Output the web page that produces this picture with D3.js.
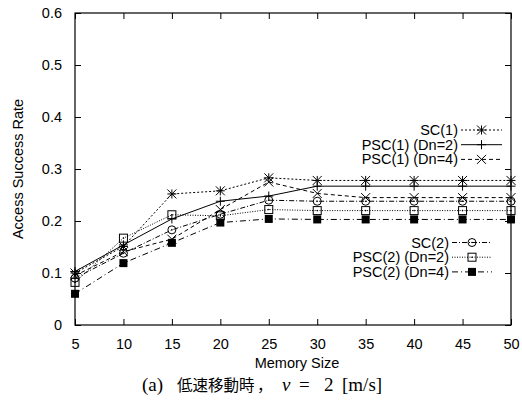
<!DOCTYPE html>
<html>
<head>
<meta charset="utf-8">
<script src="https://cdn.jsdelivr.net/npm/d3@7"></script>
<style>
  body { margin: 0; background: #fff; }
  svg { display: block; }
  text { font-family: "Liberation Sans", Arial, sans-serif; fill: #000; }
</style>
</head>
<body>
<script>
// data
const memorySize = [5, 10, 15, 20, 25, 30, 35, 40, 45, 50];
const sc1     = [0.100, 0.151, 0.252, 0.258, 0.283, 0.278, 0.278, 0.278, 0.278, 0.278];
const psc1Dn2 = [0.103, 0.154, 0.204, 0.238, 0.248, 0.267, 0.267, 0.267, 0.267, 0.267];
const psc1Dn4 = [0.095, 0.141, 0.165, 0.222, 0.275, 0.253, 0.245, 0.245, 0.245, 0.245];
const sc2     = [0.090, 0.138, 0.183, 0.213, 0.240, 0.238, 0.238, 0.238, 0.238, 0.238];
const psc2Dn2 = [0.082, 0.167, 0.212, 0.210, 0.222, 0.220, 0.220, 0.220, 0.220, 0.220];
const psc2Dn4 = [0.060, 0.119, 0.158, 0.197, 0.204, 0.203, 0.203, 0.203, 0.203, 0.203];
const seriesNames = ['SC(1)', 'PSC(1) (Dn=2)', 'PSC(1) (Dn=4)', 'SC(2)', 'PSC(2) (Dn=2)', 'PSC(2) (Dn=4)'];
const yTicks = [0, 0.1, 0.2, 0.3, 0.4, 0.5, 0.6];

const width = 522, height = 406;
const margin = { top: 13, right: 11, bottom: 81, left: 75 };

const series = [
  { name: seriesNames[0], values: sc1, dash: '2,2', marker: 'star' },
  { name: seriesNames[1], values: psc1Dn2, dash: null, marker: 'plus' },
  { name: seriesNames[2], values: psc1Dn4, dash: '4,3', marker: 'cross' },
  { name: seriesNames[3], values: sc2, dash: '5,2,1,2', marker: 'circle' },
  { name: seriesNames[4], values: psc2Dn2, dash: '1,1.5', marker: 'square' },
  { name: seriesNames[5], values: psc2Dn4, dash: '6,3,1,3', marker: 'fsquare' },
];

const svg = d3.select('body').append('svg')
  .attr('width', width)
  .attr('height', height);

const x = d3.scaleLinear().domain([5, 50]).range([margin.left, width - margin.right]);
const y = d3.scaleLinear().domain([0, 0.6]).range([height - margin.bottom, margin.top]);

// axes with inward ticks, mirrored
const fmtY = d => d === 0 ? '0' : d3.format('.1f')(d);
svg.append('g')
  .attr('transform', `translate(${margin.left},0)`)
  .call(d3.axisLeft(y).tickValues(yTicks).tickSizeInner(-6).tickSizeOuter(0).tickPadding(13).tickFormat(fmtY));
svg.append('g')
  .attr('transform', `translate(${width - margin.right},0)`)
  .call(d3.axisRight(y).tickValues(yTicks).tickSizeInner(-6).tickSizeOuter(0).tickFormat(''));
svg.append('g')
  .attr('transform', `translate(0,${height - margin.bottom})`)
  .call(d3.axisBottom(x).tickValues(memorySize).tickSizeInner(-6).tickSizeOuter(0).tickPadding(14));
svg.append('g')
  .attr('transform', `translate(0,${margin.top})`)
  .call(d3.axisTop(x).tickValues(memorySize).tickSizeInner(-6).tickSizeOuter(0).tickFormat(''));

svg.selectAll('.domain').remove();
svg.selectAll('.tick line').attr('stroke', '#000');
svg.selectAll('.tick text').style('font-size', '14.5px').style('font-family', '"Liberation Sans", Arial, sans-serif');

svg.append('rect')
  .attr('x', margin.left)
  .attr('y', margin.top)
  .attr('width', width - margin.left - margin.right)
  .attr('height', height - margin.top - margin.bottom)
  .attr('fill', 'none')
  .attr('stroke', '#000')
  .attr('stroke-width', 1.2);

// markers
function drawMarker(g, type, cx, cy) {
  const s = 4.5;
  if (type === 'star' || type === 'plus') {
    g.append('path').attr('d', `M${cx - s},${cy}H${cx + s}M${cx},${cy - s}V${cy + s}`)
      .attr('stroke', '#000').attr('stroke-width', 1);
  }
  if (type === 'star' || type === 'cross') {
    g.append('path').attr('d', `M${cx - s},${cy - s}L${cx + s},${cy + s}M${cx - s},${cy + s}L${cx + s},${cy - s}`)
      .attr('stroke', '#000').attr('stroke-width', 1);
  }
  if (type === 'circle') {
    g.append('circle').attr('cx', cx).attr('cy', cy).attr('r', 4)
      .attr('fill', 'none').attr('stroke', '#000').attr('stroke-width', 1);
    g.append('circle').attr('cx', cx).attr('cy', cy).attr('r', 0.8).attr('fill', '#000');
  }
  if (type === 'square') {
    g.append('rect').attr('x', cx - 4).attr('y', cy - 4).attr('width', 8).attr('height', 8)
      .attr('fill', 'none').attr('stroke', '#000').attr('stroke-width', 1);
    g.append('circle').attr('cx', cx).attr('cy', cy).attr('r', 0.8).attr('fill', '#000');
  }
  if (type === 'fsquare') {
    g.append('rect').attr('x', cx - 4).attr('y', cy - 4).attr('width', 8).attr('height', 8)
      .attr('fill', '#000');
  }
}

const line = d3.line()
  .x((d, i) => x(memorySize[i]))
  .y(d => y(d));

series.forEach((s) => {
  const g = svg.append('g');
  g.append('path')
    .attr('d', line(s.values))
    .attr('fill', 'none')
    .attr('stroke', '#000')
    .attr('stroke-width', 1)
    .attr('stroke-dasharray', s.dash);
  s.values.forEach((v, i) => drawMarker(g, s.marker, x(memorySize[i]), y(v)));
});

// legends (two blocks, gnuplot style)
const legendBlocks = [
  { items: series.slice(0, 3), textX: 458, x0: 461, x1: 502, top: 130 },
  { items: series.slice(3), textX: 449, x0: 452, x1: 492, top: 242.5 },
];
legendBlocks.forEach((b) => {
  b.items.forEach((s, i) => {
    const ly = b.top + i * 14.7;
    const g = svg.append('g');
    g.append('text')
      .attr('x', b.textX)
      .attr('y', ly)
      .attr('dy', '0.35em')
      .attr('text-anchor', 'end')
      .style('font-size', '14.5px')
      .text(s.name);
    g.append('line')
      .attr('x1', b.x0).attr('x2', b.x1)
      .attr('y1', ly).attr('y2', ly)
      .attr('stroke', '#000')
      .attr('stroke-width', 1)
      .attr('stroke-dasharray', s.dash);
    drawMarker(g, s.marker, (b.x0 + b.x1) / 2, ly);
  });
});

// axis titles
svg.append('text')
  .attr('transform', `translate(18,${(margin.top + height - margin.bottom) / 2}) rotate(-90)`)
  .attr('text-anchor', 'middle')
  .attr('dy', '0.35em')
  .style('font-size', '14.5px')
  .text('Access Success Rate');

svg.append('text')
  .attr('x', 297)
  .attr('y', 363)
  .attr('dy', '0.35em')
  .attr('text-anchor', 'middle')
  .style('font-size', '14.5px')
  .text('Memory Size');

// caption, pieces placed like the LaTeX typesetting
const serif = '"Liberation Serif", "DejaVu Serif", serif';
const cap = svg.append('text')
  .attr('y', 391)
  .style('font-size', '19px')
  .style('font-family', serif);
cap.append('tspan').attr('x', 142).text('(a)');
cap.append('tspan').attr('x', 177).style('font-family', '"Noto Sans CJK JP", sans-serif')
  .style('font-size', '15.5px').text('低速移動時');
cap.append('tspan').attr('x', 257).style('font-family', '"Noto Sans CJK JP", sans-serif')
  .style('font-size', '15.5px').text('，');
cap.append('tspan').attr('x', 282).style('font-style', 'italic').text('v');
cap.append('tspan').attr('x', 299).text('=');
cap.append('tspan').attr('x', 324).text('2');
cap.append('tspan').attr('x', 342).text('[m/s]');
</script>
</body>
</html>
